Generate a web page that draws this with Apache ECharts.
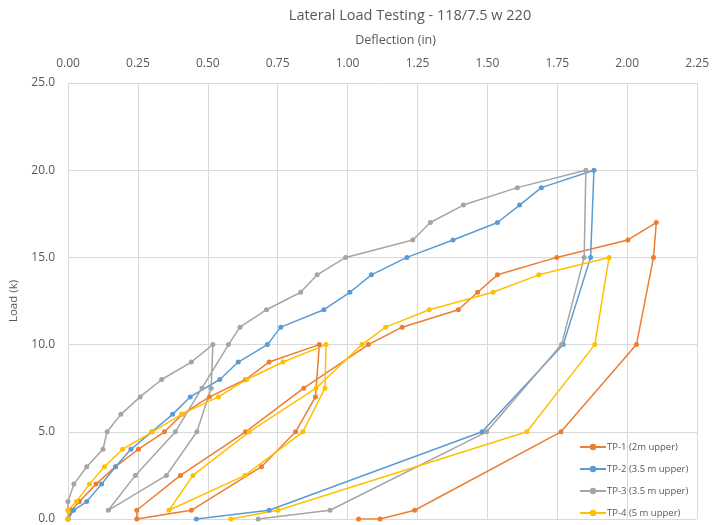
<!DOCTYPE html>
<html><head><meta charset="utf-8">
<script src="https://cdn.jsdelivr.net/npm/echarts@6/dist/echarts.min.js"></script>
<style>html,body{margin:0;padding:0;background:#fff}#c{width:712px;height:525px}</style>
</head><body><div id="c"></div>
<script>
const title = "Lateral Load Testing - 118/7.5 w 220";
const xName = "Deflection (in)";
const yName = "Load (k)";
const seriesNames = ["TP-1 (2m upper)", "TP-2 (3.5 m upper)", "TP-3 (3.5 m upper)", "TP-4 (5 m upper)"];
const colors = ["#ED7D31", "#5B9BD5", "#A5A5A5", "#FFC000"];

const tp1Defl = [0, 0.012, 0.041, 0.10, 0.17, 0.252, 0.345, 0.408, 0.506, 0.635, 0.719, 0.899, 0.885, 0.814, 0.692, 0.441, 0.246, 0.246, 0.402, 0.635, 0.843, 1.074, 1.195, 1.396, 1.465, 1.536, 1.748, 2.002, 2.104, 2.094, 2.033, 1.763, 1.240, 1.116, 1.039];
const tp1Load = [0, 0.5, 1, 2, 3, 4, 5, 6, 7, 8, 9, 10, 7, 5, 3, 0.5, 0, 0.5, 2.5, 5, 7.5, 10, 11, 12, 13, 14, 15, 16, 17, 15, 10, 5, 0.5, 0, 0];

const tp2Defl = [0, 0.02, 0.067, 0.12, 0.17, 0.225, 0.30, 0.374, 0.437, 0.543, 0.609, 0.713, 0.761, 0.915, 1.008, 1.085, 1.212, 1.377, 1.536, 1.615, 1.693, 1.881, 1.869, 1.771, 1.481, 0.719, 0.459];
const tp2Load = [0, 0.5, 1, 2, 3, 4, 5, 6, 7, 8, 9, 10, 11, 12, 13, 14, 15, 16, 17, 18, 19, 20, 15, 10, 5, 0.5, 0];

const tp3Defl = [0, 0, 0, 0.021, 0.067, 0.125, 0.14, 0.189, 0.258, 0.335, 0.441, 0.518, 0.512, 0.461, 0.352, 0.144, 0.241, 0.384, 0.479, 0.574, 0.615, 0.710, 0.832, 0.891, 0.993, 1.233, 1.296, 1.414, 1.607, 1.852, 1.846, 1.765, 1.497, 0.937, 0.680];
const tp3Load = [0, 0.5, 1, 2, 3, 4, 5, 6, 7, 8, 9, 10, 7.5, 5, 2.5, 0.5, 2.5, 5, 7.5, 10, 11, 12, 13, 14, 15, 16, 17, 18, 19, 20, 15, 10, 5, 0.5, 0];

const tp4Defl = [0, 0, 0.03, 0.077, 0.13, 0.195, 0.302, 0.406, 0.538, 0.639, 0.769, 0.923, 0.919, 0.840, 0.633, 0.361, 0.447, 0.648, 0.887, 1.051, 1.136, 1.292, 1.520, 1.684, 1.935, 1.884, 1.641, 0.751, 0.582];
const tp4Load = [0, 0.5, 1, 2, 3, 4, 5, 6, 7, 8, 9, 10, 7.5, 5, 2.5, 0.5, 2.5, 5, 7.5, 10, 11, 12, 13, 14, 15, 10, 5, 0.5, 0];

const deflSets = [tp1Defl, tp2Defl, tp3Defl, tp4Defl];
const loadSets = [tp1Load, tp2Load, tp3Load, tp4Load];

const font = "Open Sans";
const txt = "#595959";
const chart = echarts.init(document.getElementById('c'), null, {renderer: 'canvas'});
chart.setOption({
  animation: false,
  color: colors,
  title: {text: title, left: 405, top: 3, textAlign: 'center',
    textStyle: {fontFamily: font, fontSize: 14.5, fontWeight: 'normal', color: txt}},
  grid: {left: 67, right: 12, top: 83, bottom: 6, containLabel: false},
  legend: {orient: 'vertical', left: 574, top: 437, itemWidth: 26, itemHeight: 8, itemGap: 12,
    textStyle: {fontFamily: font, fontSize: 9.5, color: txt, padding: [0,0,0,-4]},
    data: seriesNames},
  xAxis: {type: 'value', position: 'top', min: 0, max: 2.25, interval: 0.25,
    name: xName, nameLocation: 'middle', nameGap: 36,
    nameTextStyle: {fontFamily: font, fontSize: 12.5, color: txt, padding: [0,0,0,26]},
    axisLine: {show: false}, axisTick: {show: false},
    axisLabel: {fontFamily: font, fontSize: 12, color: txt, margin: 13, formatter: v => v.toFixed(2)},
    splitLine: {lineStyle: {color: '#D9D9D9', width: 1}}},
  yAxis: {type: 'value', min: 0, max: 25, interval: 5,
    name: yName, nameLocation: 'middle', nameGap: 48,
    nameTextStyle: {fontFamily: font, fontSize: 11.5, color: txt},
    axisLine: {show: false}, axisTick: {show: false},
    axisLabel: {fontFamily: font, fontSize: 12, color: txt, margin: 13, formatter: v => v.toFixed(1)},
    splitLine: {lineStyle: {color: '#D9D9D9', width: 1}}},
  series: seriesNames.map((n, i) => ({
    name: n, type: 'line', symbol: 'circle', symbolSize: 5,
    lineStyle: {width: 1.5, color: colors[i]}, itemStyle: {color: colors[i]},
    data: deflSets[i].map((d, k) => [d, loadSets[i][k]])
  }))
});
</script></body></html>
